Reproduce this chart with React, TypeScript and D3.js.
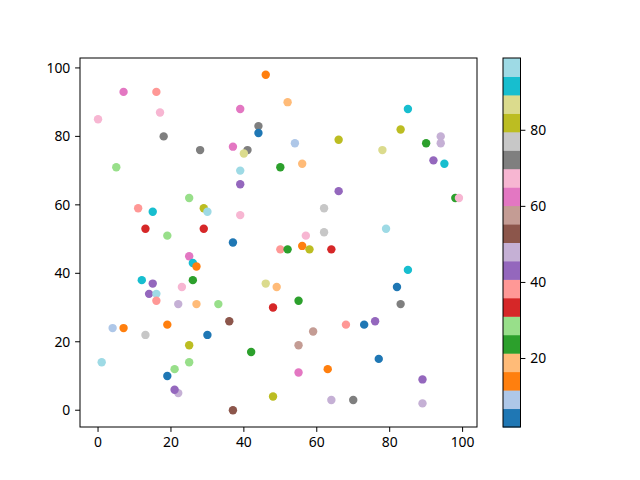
import React from "react";
import * as d3 from "d3";

const xs = [7,16,0,17,18,28,5,25,11,15,29,30,13,29,19,46,52,39,44,44,66,54,37,41,40,50,56,39,39,66,62,39,62,57,37,56,85,83,90,94,94,78,92,95,98,99,79,25,26,27,12,15,26,23,14,16,16,22,27,33,4,7,19,13,30,25,1,25,21,19,22,21,50,52,58,64,46,49,55,48,36,59,55,42,55,63,48,64,37,85,82,83,68,73,76,77,89,70,89];
const ys = [93,93,85,87,80,76,71,62,59,58,59,58,53,53,51,98,90,88,83,81,79,78,77,76,75,71,72,70,66,64,59,57,52,51,49,48,88,82,78,80,78,76,73,72,62,62,53,45,43,42,38,37,38,36,34,34,32,31,31,31,24,24,25,22,22,19,14,14,12,10,5,6,47,47,47,47,37,36,32,30,26,23,19,17,11,12,4,3,0,41,36,31,25,25,26,15,9,3,2];
const cs = [63,38,67,67,72,72,29,29,38,92,82,97,33,33,29,14,19,63,72,2,82,9,63,72,87,24,19,99,43,43,77,67,77,67,4,14,92,82,24,48,48,87,43,92,24,67,97,63,92,14,92,43,24,67,43,97,38,48,19,29,9,14,14,77,4,82,97,29,29,4,48,43,38,24,82,33,87,19,24,33,53,58,58,24,63,14,82,48,53,92,4,72,38,4,43,4,43,72,48];

const xTicks = [0, 20, 40, 60, 80, 100];
const yTicks = [0, 20, 40, 60, 80, 100];
const cTicks = [20, 40, 60, 80];

const tab20 = ["#1f77b4","#aec7e8","#ff7f0e","#ffbb78","#2ca02c","#98df8a","#d62728","#ff9896","#9467bd","#c5b0d5","#8c564b","#c49c94","#e377c2","#f7b6d2","#7f7f7f","#c7c7c7","#bcbd22","#dbdb8d","#17becf","#9edae5"];

const W = 640, H = 480;
const L = 80, R = 477, T = 58, B = 427;
const CBL = 503, CBR = 520.5;
const FONT = "'Noto Sans', DejaVu Sans, sans-serif";
const FS = 13.9;

function pad([a, b]: [number, number]): [number, number] {
  const m = (b - a) * 0.05;
  return [a - m, b + m];
}

export default function App() {
  const xExt = d3.extent(xs) as [number, number];
  const yExt = d3.extent(ys) as [number, number];
  const cExt = d3.extent(cs) as [number, number];
  const x = d3.scaleLinear().domain(pad(xExt)).range([L, R]);
  const y = d3.scaleLinear().domain(pad(yExt)).range([B, T]);
  const color = d3.scaleQuantize<string>().domain(cExt).range(tab20);
  const cy = d3.scaleLinear().domain(cExt).range([B, T]);
  const step = (cExt[1] - cExt[0]) / tab20.length;

  return (
    <svg width={W} height={H} style={{ display: "block", position: "absolute", left: 0, top: 0 }} fontFamily={FONT} fontSize={FS}>
      <rect width={W} height={H} fill="#fff" />
      {xs.map((xv, i) => (
        <circle key={i} cx={x(xv)} cy={y(ys[i])} r={4.2} fill={color(cs[i])} />
      ))}
      <rect x={L} y={T} width={R - L} height={B - T} fill="none" stroke="#000" strokeWidth={1} />
      {xTicks.map((t) => (
        <g key={"x" + t} transform={`translate(${x(t)},${B})`}>
          <line y1={0} y2={4.9} stroke="#000" />
          <text y={20} textAnchor="middle" fill="#000">{t}</text>
        </g>
      ))}
      {yTicks.map((t) => (
        <g key={"y" + t} transform={`translate(${L},${y(t)})`}>
          <line x1={0} x2={-4.9} stroke="#000" />
          <text x={-9.7} dy="0.35em" textAnchor="end" fill="#000">{t}</text>
        </g>
      ))}
      {tab20.map((col, i) => {
        const lo = cExt[0] + step * i;
        const hi = cExt[0] + step * (i + 1);
        return <rect key={"cb" + i} x={CBL} y={cy(hi)} width={CBR - CBL} height={cy(lo) - cy(hi) + 0.5} fill={col} />;
      })}
      <rect x={CBL} y={T} width={CBR - CBL} height={B - T} fill="none" stroke="#000" strokeWidth={1} />
      {cTicks.map((t) => (
        <g key={"c" + t} transform={`translate(${CBR},${cy(t)})`}>
          <line x1={0} x2={4.9} stroke="#000" />
          <text x={9.7} dy="0.35em" textAnchor="start" fill="#000">{t}</text>
        </g>
      ))}
    </svg>
  );
}
